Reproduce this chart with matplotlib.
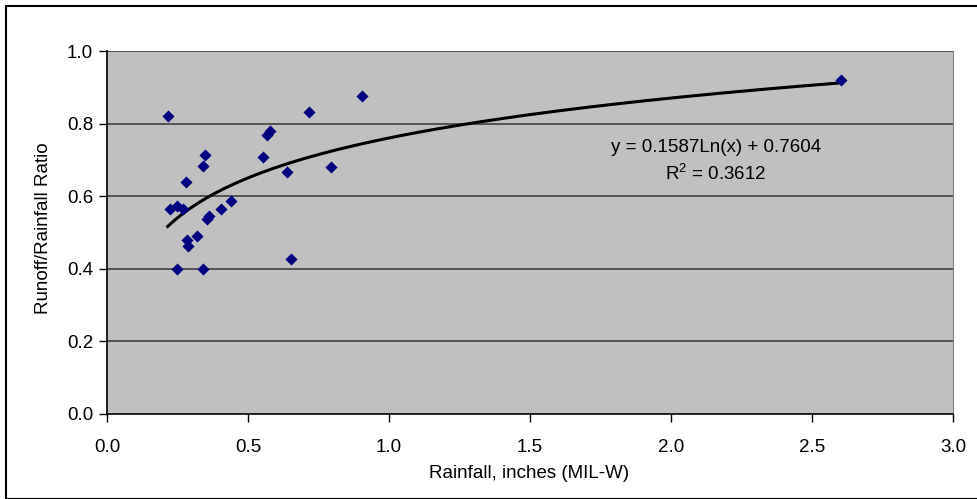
import numpy as np
import matplotlib
matplotlib.use("Agg")
import matplotlib.pyplot as plt
from matplotlib.patches import Rectangle

plt.rcParams['font.family'] = ['Liberation Sans', 'DejaVu Sans']

# rainfall (inches) and runoff/rainfall ratio
rainfall = [0.215, 0.717, 0.577, 0.567, 0.347, 0.340, 0.553, 0.640, 0.794,
            0.281, 0.438, 0.405, 0.363, 0.355, 0.225, 0.249, 0.268, 0.320,
            0.282, 0.287, 0.249, 0.340, 0.652, 0.904, 2.603]
ratio = [0.821, 0.833, 0.779, 0.768, 0.713, 0.683, 0.709, 0.667, 0.681,
         0.639, 0.586, 0.565, 0.545, 0.536, 0.564, 0.573, 0.566, 0.491,
         0.479, 0.464, 0.399, 0.399, 0.428, 0.876, 0.920]

# log trendline coefficients from the chart
slope = 0.1587
intercept = 0.7604
r2 = 0.3612

fs = 13.5

fig = plt.figure(figsize=(9.77, 4.99), dpi=100)
ax = fig.add_axes([107 / 977, 1 - 414 / 499, 846 / 977, 363 / 499])
ax.set_facecolor('#C0C0C0')

# outer chart border
fig.patches.append(Rectangle((6 / 977, 0), 1, 1 - 6 / 499, transform=fig.transFigure,
                             fill=False, edgecolor='black', linewidth=1.5))

for yv in [0.2, 0.4, 0.6, 0.8, 1.0]:
    ax.axhline(yv, color='#404040', linewidth=1.2, zorder=1)

xs = np.linspace(min(rainfall), max(rainfall), 300)
ax.plot(xs, slope * np.log(xs) + intercept, color='black', linewidth=2.2, zorder=2)
ax.scatter(rainfall, ratio, marker='D', s=38, color='#000080', zorder=3, linewidths=0)

ax.text(2.16, 0.735, 'y = %.4fLn(x) + %.4f' % (slope, intercept),
        ha='center', va='center', fontsize=fs)
ax.text(2.16, 0.661, '$\\mathregular{R^2}$ = %.4f' % r2,
        ha='center', va='center', fontsize=fs)

ax.set_xlim(0, 3.0)
ax.set_ylim(0, 1.0)
ax.set_xticks(np.arange(0, 3.01, 0.5))
ax.set_yticks(np.arange(0, 1.01, 0.2))
ax.xaxis.set_major_formatter(matplotlib.ticker.FormatStrFormatter('%.1f'))
ax.yaxis.set_major_formatter(matplotlib.ticker.FormatStrFormatter('%.1f'))
ax.tick_params(direction='out', length=6, width=1, labelsize=fs)
ax.tick_params(axis='x', pad=12)
ax.tick_params(axis='y', pad=4)

for side in ['left', 'bottom']:
    ax.spines[side].set_color('black')
    ax.spines[side].set_linewidth(1.2)
ax.spines['top'].set_visible(False)
ax.spines['right'].set_color('#808080')

ax.set_xlabel('Rainfall, inches (MIL-W)', fontsize=fs)
ax.set_ylabel('Runoff/Rainfall Ratio', fontsize=fs)
ax.xaxis.set_label_coords((529 - 107) / 846, -(465 - 414) / 363)
ax.yaxis.set_label_coords(-(107 - 52) / 846, (414 - 228) / 363)

fig.savefig('out.png', dpi=100)
